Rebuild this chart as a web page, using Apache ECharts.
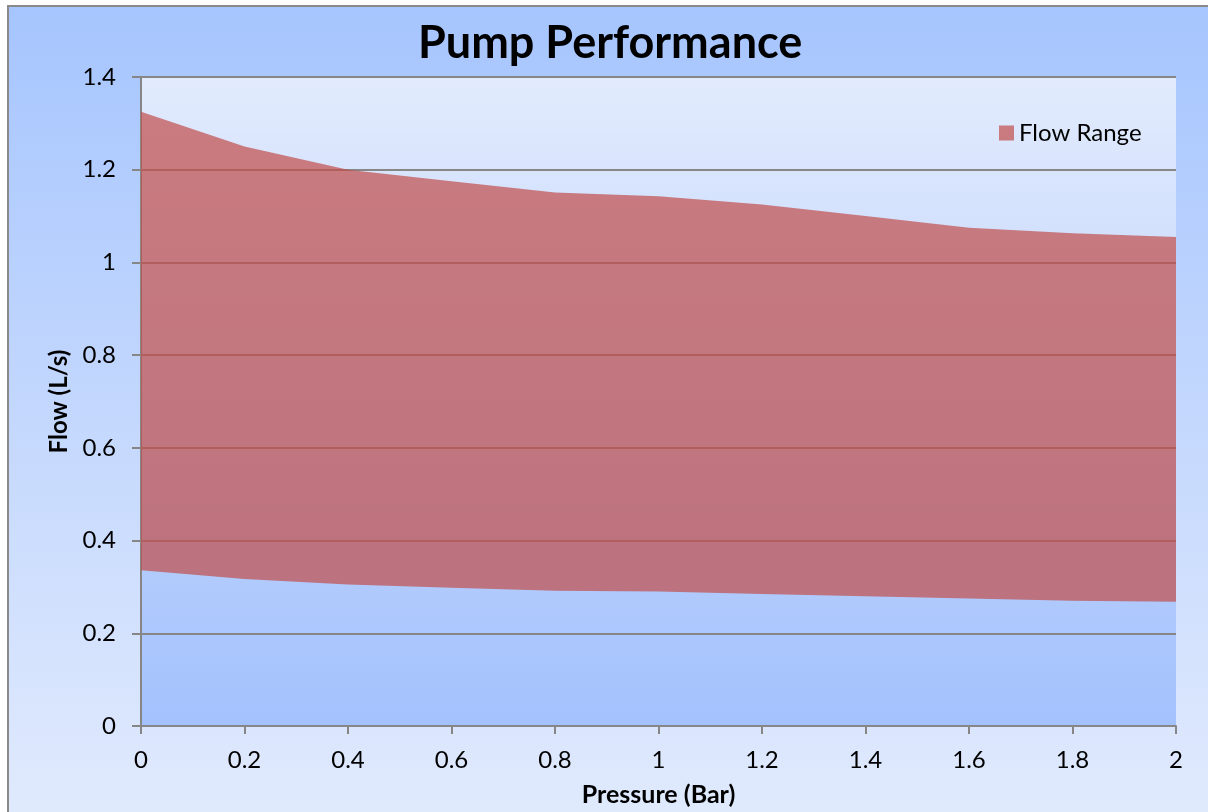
<!DOCTYPE html>
<html>
<head>
<meta charset="utf-8">
<script src="https://cdn.jsdelivr.net/npm/echarts@6/dist/echarts.min.js"></script>
<style>
html,body{margin:0;padding:0;background:#ffffff;}
#chart{width:1208px;height:812px;}
</style>
</head>
<body>
<div id="chart"></div>
<script>
const pressure = ['0', '0.2', '0.4', '0.6', '0.8', '1', '1.2', '1.4', '1.6', '1.8', '2'];
const flowUpper = [1.325, 1.25, 1.2, 1.175, 1.151, 1.143, 1.125, 1.1, 1.075, 1.063, 1.055];
const flowLower = [0.336, 0.317, 0.305, 0.298, 0.292, 0.290, 0.285, 0.280, 0.275, 0.270, 0.268];

const FONT = 'Lato';
const chart = echarts.init(document.getElementById('chart'));

const bandData = flowUpper.map((u, i) => +(u - flowLower[i]).toFixed(4));

const option = {
  backgroundColor: '#ffffff',
  animation: false,
  graphic: [{
    type: 'rect',
    z: -10,
    silent: true,
    shape: { x: 8, y: 6, width: 1220, height: 830 },
    style: {
      fill: new echarts.graphic.LinearGradient(0, 0, 0, 1, [
        { offset: 0, color: '#a6c5fe' },
        { offset: 1, color: '#e2ebfd' }
      ]),
      stroke: '#8a8a8a',
      lineWidth: 2
    }
  }],
  title: {
    text: 'Pump Performance',
    left: 413,
    top: 16,
    textStyle: { fontFamily: FONT, fontWeight: 'bold', fontSize: 45, color: '#000000' }
  },
  legend: {
    data: ['Flow Range'],
    left: 994,
    top: 116,
    icon: 'rect',
    itemWidth: 15,
    itemHeight: 15,
    textStyle: { fontFamily: FONT, fontSize: 24, color: '#000000' }
  },
  grid: {
    left: 141, right: 32, top: 77, bottom: 84,
    show: true,
    borderWidth: 0,
    backgroundColor: new echarts.graphic.LinearGradient(0, 0, 0, 1, [
      { offset: 0, color: '#e2ebfd' },
      { offset: 1, color: '#a3c1fd' }
    ])
  },
  xAxis: {
    type: 'category',
    data: pressure,
    boundaryGap: false,
    name: 'Pressure (Bar)',
    nameLocation: 'middle',
    nameGap: 56,
    nameTextStyle: { fontFamily: FONT, fontWeight: 'bold', fontSize: 25, color: '#000000' },
    axisLine: { lineStyle: { color: '#868686', width: 2 } },
    axisTick: { show: true, length: 8, alignWithLabel: true, lineStyle: { color: '#868686', width: 2 } },
    axisLabel: { fontFamily: FONT, fontSize: 24, color: '#000000', margin: 22 },
    splitLine: { show: false }
  },
  yAxis: {
    type: 'value',
    min: 0, max: 1.4, interval: 0.2,
    name: 'Flow (L/s)',
    nameLocation: 'middle',
    nameGap: 70,
    nameTextStyle: { fontFamily: FONT, fontWeight: 'bold', fontSize: 24, color: '#000000' },
    axisLine: { show: true, lineStyle: { color: '#868686', width: 2 } },
    axisTick: { show: true, length: 9, lineStyle: { color: '#868686', width: 2 } },
    axisLabel: { fontFamily: FONT, fontSize: 24, color: '#000000', margin: 25 },
    splitLine: { show: true, lineStyle: { color: '#878787', width: 2 } }
  },
  series: [
    {
      name: 'Base',
      type: 'line',
      stack: 'flow',
      data: flowLower,
      symbol: 'none',
      lineStyle: { width: 0, opacity: 0 },
      areaStyle: { color: 'rgba(0,0,0,0)' },
      silent: true
    },
    {
      name: 'Flow Range',
      type: 'line',
      stack: 'flow',
      data: bandData,
      symbol: 'none',
      color: 'rgba(192,80,77,0.72)',
      lineStyle: { width: 0, opacity: 0 },
      areaStyle: { color: 'rgba(192,80,77,0.72)', opacity: 1 }
    }
  ]
};
chart.setOption(option);
</script>
</body>
</html>
